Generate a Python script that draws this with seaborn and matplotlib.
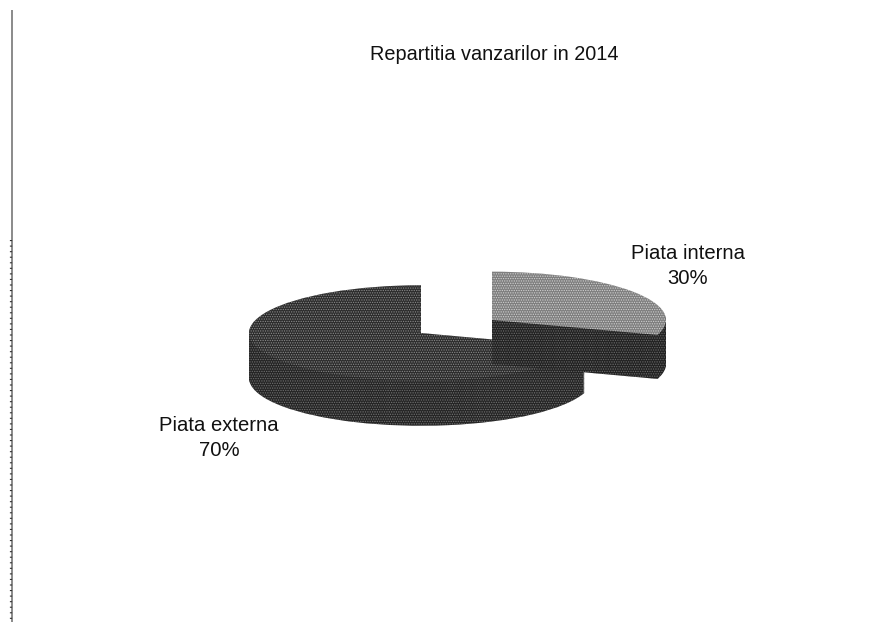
import matplotlib
matplotlib.use('Agg')
import matplotlib.pyplot as plt
import seaborn as sns

# date grafic
labels = ['Piata interna', 'Piata externa']
values = [30, 70]
title = 'Repartitia vanzarilor in 2014'

sns.set_theme(style='white')
plt.rcParams['font.family'] = ['Liberation Sans', 'DejaVu Sans']
plt.rcParams['hatch.linewidth'] = 0.6

W, H = 893, 622
K = 3.6  # turtirea elipsei


def to_y(py):
    return (H - py) * K


fig = plt.figure(figsize=(W / 100, H / 100), dpi=100)
ax = fig.add_axes([0, 0, 1, 1])


def draw_slice(idx, cx, cy, radius, depth, top_color, wall_color, top_dot, wall_dot):
    # peretele lateral, din straturi suprapuse, apoi fata de sus
    for d in list(range(depth, 0, -1)) + [0]:
        face = top_color if d == 0 else wall_color
        dot = top_dot if d == 0 else wall_dot
        wedges, _ = ax.pie(values, startangle=90, counterclock=False, radius=radius,
                           center=(cx, to_y(cy + d)),
                           wedgeprops={'facecolor': face, 'edgecolor': dot,
                                       'hatch': '.......', 'linewidth': 0})
        for i, w in enumerate(wedges):
            w.set_visible(i == idx)


draw_slice(1, 421, 333, 172, 45, '#2c2c2c', '#252525', '#8a8a8a', '#7c7c7c')
draw_slice(0, 492, 320, 174, 44, '#7e7e7e', '#222222', '#d0d0d0', '#747474')

ax.set_aspect('auto')
ax.set_frame_on(False)
ax.set_xlim(0, W)
ax.set_ylim(0, H * K)
ax.set_xticks([])
ax.set_yticks([])

# marginea din stanga a scanarii
ax.plot([11.5, 11.5], [to_y(10), to_y(H)], color='#8a8a8a', lw=1.4, solid_capstyle='butt')
ax.plot([11.2, 11.2], [to_y(240), to_y(H)], color='#333333', lw=1.6, ls=(0, (0.5, 2.0)))

ax.text(494, to_y(54), title, ha='center', va='center', fontsize=14.3, color='#111111')
ax.text(688, to_y(266), f'{labels[0]}\n{values[0]}%', ha='center', va='center',
        fontsize=14.6, color='#111111', linespacing=1.38)
ax.text(219, to_y(438), f'{labels[1]}\n{values[1]}%', ha='center', va='center',
        fontsize=14.6, color='#111111', linespacing=1.38)

fig.savefig('out.png', dpi=100, facecolor='white')
